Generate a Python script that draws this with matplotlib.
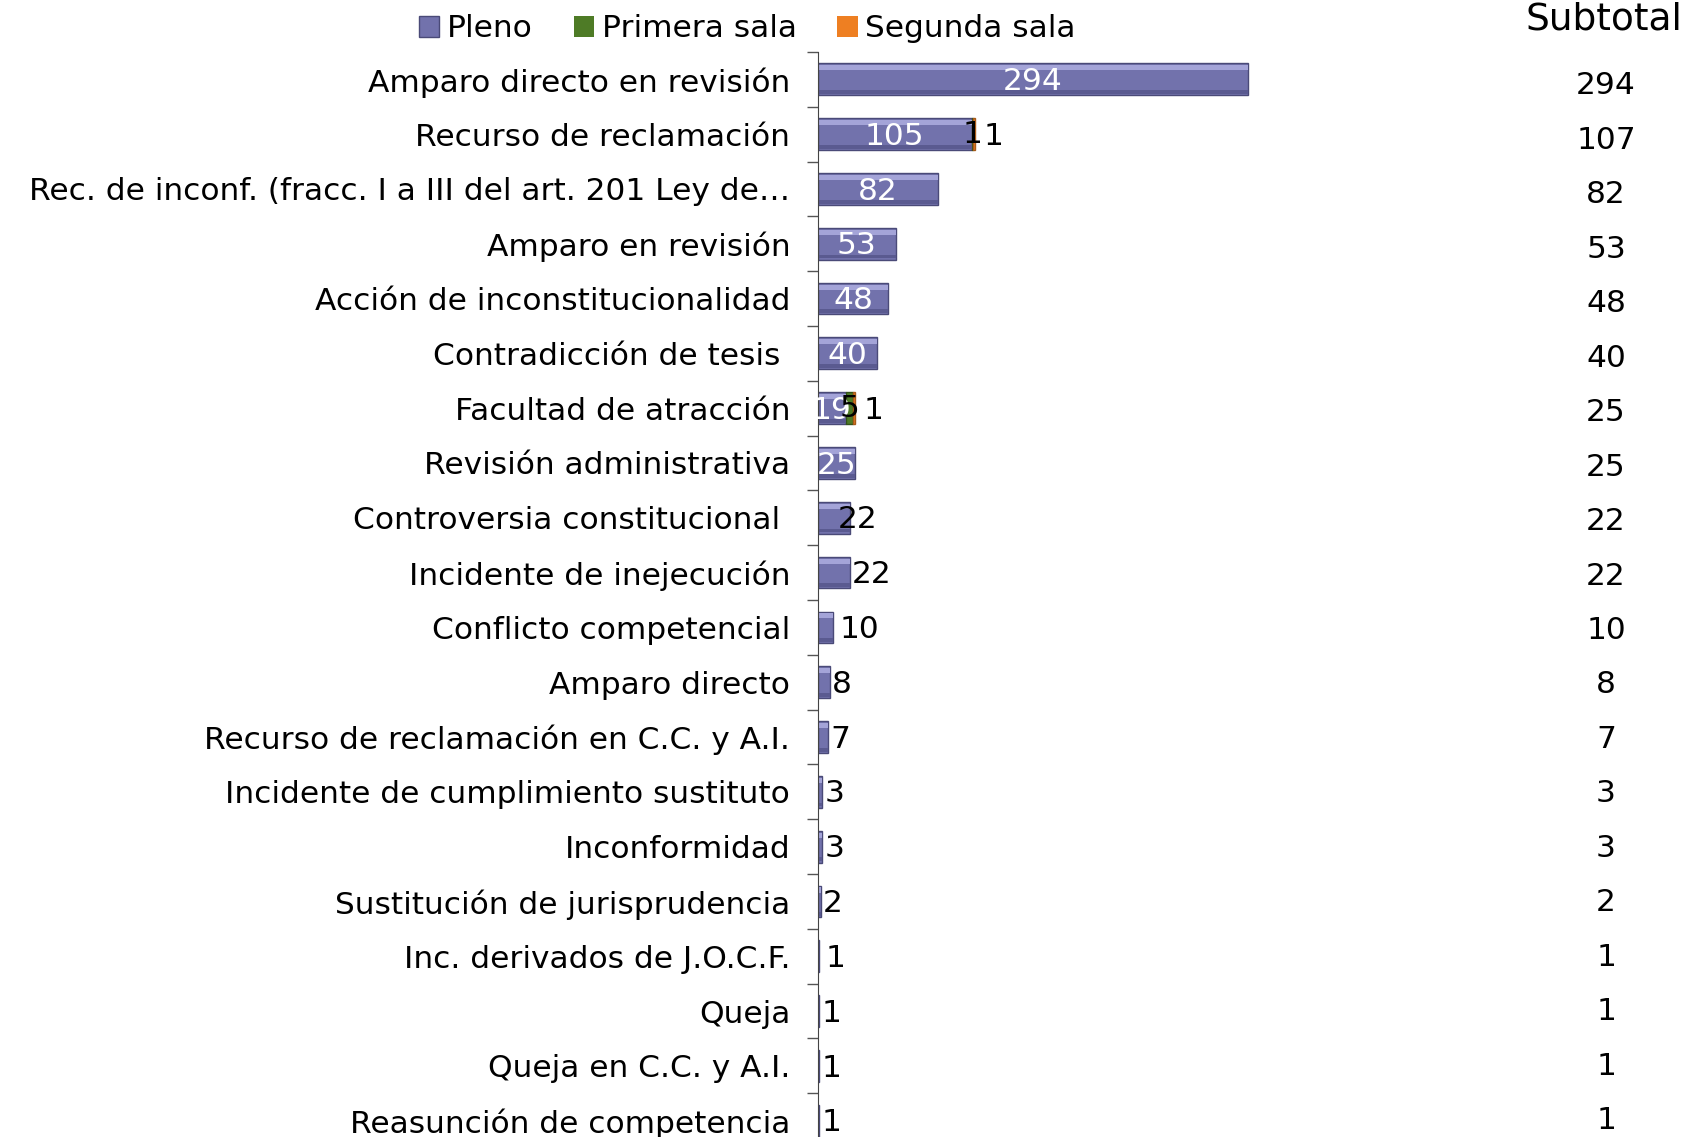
import matplotlib
matplotlib.use("Agg")
import matplotlib.pyplot as plt
import matplotlib.transforms as mtransforms
import numpy as np

categorias = [
    "Amparo directo en revisión",
    "Recurso de reclamación",
    "Rec. de inconf. (fracc. I a III del art. 201 Ley de…",
    "Amparo en revisión",
    "Acción de inconstitucionalidad",
    "Contradicción de tesis ",
    "Facultad de atracción",
    "Revisión administrativa",
    "Controversia constitucional ",
    "Incidente de inejecución",
    "Conflicto competencial",
    "Amparo directo",
    "Recurso de reclamación en C.C. y A.I.",
    "Incidente de cumplimiento sustituto",
    "Inconformidad",
    "Sustitución de jurisprudencia",
    "Inc. derivados de J.O.C.F.",
    "Queja",
    "Queja en C.C. y A.I.",
    "Reasunción de competencia",
]
pleno = [294, 105, 82, 53, 48, 40, 19, 25, 22, 22, 10, 8, 7, 3, 3, 2, 1, 1, 1, 1]
primera_sala = [0, 1, 0, 0, 0, 0, 5, 0, 0, 0, 0, 0, 0, 0, 0, 0, 0, 0, 0, 0]
segunda_sala = [0, 1, 0, 0, 0, 0, 1, 0, 0, 0, 0, 0, 0, 0, 0, 0, 0, 0, 0, 0]
subtotal = [294, 107, 82, 53, 48, 40, 25, 25, 22, 22, 10, 8, 7, 3, 3, 2, 1, 1, 1, 1]

c_pleno = "#7272AC"
c_primera = "#4E7B26"
c_segunda = "#EE7F22"

fig = plt.figure(figsize=(16.95, 11.37), dpi=100)
ax = fig.add_axes([0.4826, -0.0097, 0.3434, 0.964])

n = len(categorias)
y = np.arange(n)
pl = np.array(pleno)
p1 = np.array(primera_sala)
p2 = np.array(segunda_sala)
h = 0.58

ax.barh(y, pl, height=h, color=c_pleno, edgecolor="#4A4A78", linewidth=1, label="Pleno")
ax.barh(y, p1, left=pl, height=h, color=c_primera, edgecolor="#33521A",
        linewidth=np.where(p1 > 0, 1, 0), label="Primera sala")
ax.barh(y, p2, left=pl + p1, height=h, color=c_segunda, edgecolor="#A85A18",
        linewidth=np.where(p2 > 0, 1, 0), label="Segunda sala")
# brillo superior / sombra inferior (efecto biselado)
ax.barh(y - h * 0.36, pl, height=h * 0.16, color="#A4A4D8", linewidth=0)
ax.barh(y + h * 0.40, pl, height=h * 0.12, color="#5A5A90", linewidth=0)

ax.set_xlim(0, 397.8)
ax.set_ylim(n - 0.5, -0.5)

fs = 22.5
# etiquetas de datos
for i in range(n):
    v = pleno[i]
    if v >= 19 and i not in (8, 9):
        ax.text(v / 2, i + 0.04, str(v), color="white", ha="center", va="center", fontsize=fs)
    elif i == 8:
        ax.text(v + 5, i + 0.04, str(v), color="black", ha="center", va="center", fontsize=fs)
    elif i in (10, 16):
        ax.text(v + 4.5, i + 0.04, str(v), color="black", ha="left", va="center", fontsize=fs)
    else:
        ax.text(v + 1.2, i + 0.04, str(v), color="black", ha="left", va="center", fontsize=fs)
    if primera_sala[i]:
        ax.text(v + primera_sala[i] / 2, i, str(primera_sala[i]), color="black",
                ha="center", va="center", fontsize=fs)
    if segunda_sala[i]:
        ax.text(subtotal[i] + 6, i + 0.05, str(segunda_sala[i]), color="black",
                ha="left", va="center", fontsize=fs)

# columna de subtotales
trans = mtransforms.blended_transform_factory(fig.transFigure, ax.transData)
for i in range(n):
    ax.text(0.9475, i + 0.12 * (1 - i / (n - 1)), str(subtotal[i]), transform=trans,
            ha="center", va="center", fontsize=fs, clip_on=False)
fig.text(0.946, 0.983, "Subtotal", ha="center", va="center", fontsize=27)

ax.set_yticks(y)
ax.set_yticklabels(categorias, fontsize=fs)
ax.set_yticks(np.arange(n + 1) - 0.5, minor=True)
ax.tick_params(axis="y", which="major", length=0, pad=20)
ax.tick_params(axis="y", which="minor", length=8, width=1, color="#555555", direction="out")
ax.set_xticks([])
for s in ["top", "right", "bottom"]:
    ax.spines[s].set_visible(False)
ax.spines["left"].set_color("#444444")

fig.legend(loc="center", bbox_to_anchor=(0.441, 0.9745), ncol=3, frameon=False,
           fontsize=fs, handlelength=0.65, handleheight=0.65, handletextpad=0.25,
           columnspacing=1.3, borderaxespad=0)

fig.savefig("out.png", dpi=100)
